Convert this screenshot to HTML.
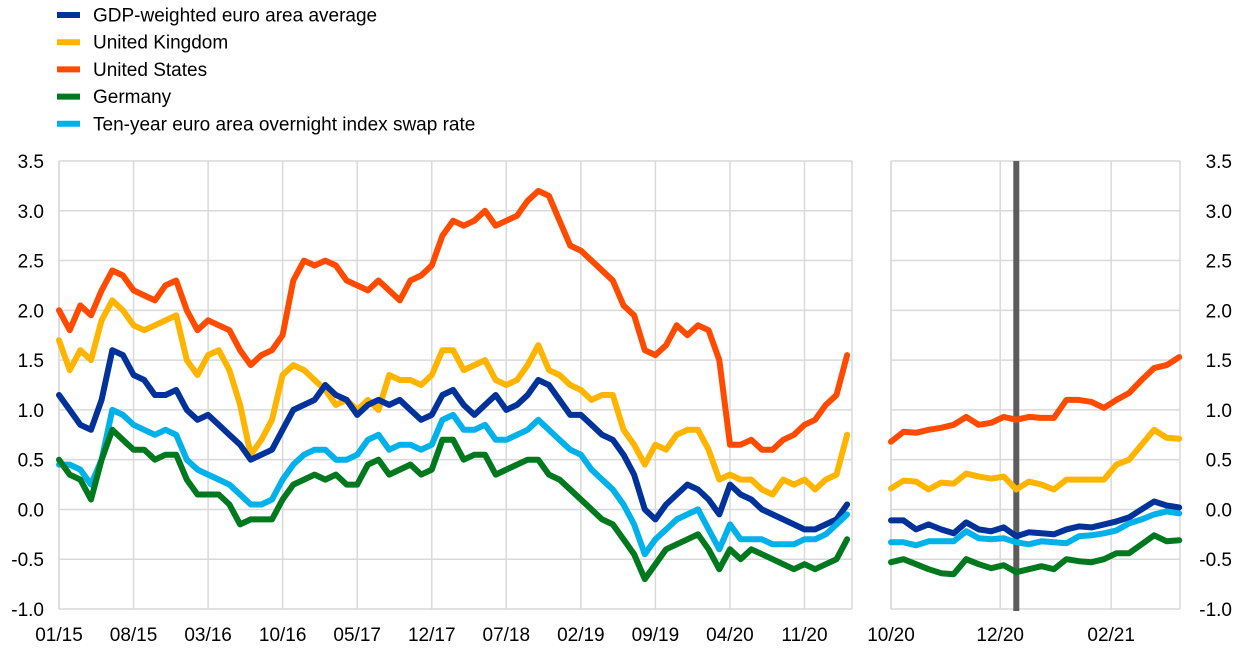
<!DOCTYPE html>
<html><head><meta charset="utf-8"><style>
body{margin:0;background:#fff;font-family:"Liberation Sans",Arial,sans-serif}
svg{display:block}
text{font-family:"Liberation Sans",Arial,sans-serif;fill:#000}
</style></head><body>
<svg id="chart" width="1240" height="653" viewBox="0 0 1240 653" xmlns="http://www.w3.org/2000/svg">
<g id="legend"></g>
<g id="left"></g>
<g id="right"></g>
</svg>
<script>
const seriesNames=["GDP-weighted euro area average","United Kingdom","United States","Germany","Ten-year euro area overnight index swap rate"];
const seriesKeys=["gdp","uk","us","de","ois"];
const seriesColors=["#003299","#FFB400","#FF4B00","#00781E","#00B1EA"];
const yTicks=[3.5,3.0,2.5,2.0,1.5,1.0,0.5,0.0,-0.5,-1.0];
const leftTickLabels=["01/15","08/15","03/16","10/16","05/17","12/17","07/18","02/19","09/19","04/20","11/20"];
const leftTickMonths=[0,7,14,21,28,35,42,49,56,63,70];
const rightTickLabels=["10/20","12/20","02/21"];
const rightTickDays=[0,61,123];
const markerDay=70;
// Left panel: monthly values Jan 2015 .. Mar 2021
const leftGdp=[1.15,1.0,0.85,0.8,1.1,1.6,1.55,1.35,1.3,1.15,1.15,1.2,1.0,0.9,0.95,0.85,0.75,0.65,0.5,0.55,0.6,0.8,1.0,1.05,1.1,1.25,1.15,1.1,0.95,1.05,1.1,1.05,1.1,1.0,0.9,0.95,1.15,1.2,1.05,0.95,1.05,1.15,1.0,1.05,1.15,1.3,1.25,1.1,0.95,0.95,0.85,0.75,0.7,0.55,0.35,0.0,-0.1,0.05,0.15,0.25,0.2,0.1,-0.05,0.25,0.15,0.1,0.0,-0.05,-0.1,-0.15,-0.2,-0.2,-0.15,-0.1,0.05];
const leftUk=[1.7,1.4,1.6,1.5,1.9,2.1,2.0,1.85,1.8,1.85,1.9,1.95,1.5,1.35,1.55,1.6,1.4,1.05,0.55,0.7,0.9,1.35,1.45,1.4,1.3,1.2,1.05,1.1,1.0,1.1,1.0,1.35,1.3,1.3,1.25,1.35,1.6,1.6,1.4,1.45,1.5,1.3,1.25,1.3,1.45,1.65,1.4,1.35,1.25,1.2,1.1,1.15,1.15,0.8,0.65,0.45,0.65,0.6,0.75,0.8,0.8,0.6,0.3,0.35,0.3,0.3,0.2,0.15,0.3,0.25,0.3,0.2,0.3,0.35,0.75];
const leftUs=[2.0,1.8,2.05,1.95,2.2,2.4,2.35,2.2,2.15,2.1,2.25,2.3,2.0,1.8,1.9,1.85,1.8,1.6,1.45,1.55,1.6,1.75,2.3,2.5,2.45,2.5,2.45,2.3,2.25,2.2,2.3,2.2,2.1,2.3,2.35,2.45,2.75,2.9,2.85,2.9,3.0,2.85,2.9,2.95,3.1,3.2,3.15,2.9,2.65,2.6,2.5,2.4,2.3,2.05,1.95,1.6,1.55,1.65,1.85,1.75,1.85,1.8,1.5,0.65,0.65,0.7,0.6,0.6,0.7,0.75,0.85,0.9,1.05,1.15,1.55];
const leftDe=[0.5,0.35,0.3,0.1,0.5,0.8,0.7,0.6,0.6,0.5,0.55,0.55,0.3,0.15,0.15,0.15,0.05,-0.15,-0.1,-0.1,-0.1,0.1,0.25,0.3,0.35,0.3,0.35,0.25,0.25,0.45,0.5,0.35,0.4,0.45,0.35,0.4,0.7,0.7,0.5,0.55,0.55,0.35,0.4,0.45,0.5,0.5,0.35,0.3,0.2,0.1,0.0,-0.1,-0.15,-0.3,-0.45,-0.7,-0.55,-0.4,-0.35,-0.3,-0.25,-0.4,-0.6,-0.4,-0.5,-0.4,-0.45,-0.5,-0.55,-0.6,-0.55,-0.6,-0.55,-0.5,-0.3];
const leftOis=[0.45,0.45,0.4,0.25,0.5,1.0,0.95,0.85,0.8,0.75,0.8,0.75,0.5,0.4,0.35,0.3,0.25,0.15,0.05,0.05,0.1,0.3,0.45,0.55,0.6,0.6,0.5,0.5,0.55,0.7,0.75,0.6,0.65,0.65,0.6,0.65,0.9,0.95,0.8,0.8,0.85,0.7,0.7,0.75,0.8,0.9,0.8,0.7,0.6,0.55,0.4,0.3,0.2,0.05,-0.15,-0.45,-0.3,-0.2,-0.1,-0.05,0.0,-0.2,-0.4,-0.15,-0.3,-0.3,-0.3,-0.35,-0.35,-0.35,-0.3,-0.3,-0.25,-0.15,-0.05];
// Right panel: weekly values from 1 Oct 2020
const rightGdp=[-0.11,-0.11,-0.2,-0.15,-0.2,-0.24,-0.13,-0.2,-0.22,-0.18,-0.27,-0.23,-0.24,-0.25,-0.2,-0.17,-0.18,-0.15,-0.12,-0.08,0.0,0.08,0.04,0.02];
const rightUk=[0.21,0.29,0.28,0.2,0.27,0.26,0.36,0.33,0.31,0.33,0.2,0.28,0.25,0.2,0.3,0.3,0.3,0.3,0.45,0.5,0.65,0.8,0.72,0.71];
const rightUs=[0.68,0.78,0.77,0.8,0.82,0.85,0.93,0.85,0.87,0.93,0.9,0.93,0.92,0.92,1.1,1.1,1.08,1.02,1.1,1.17,1.3,1.42,1.45,1.53];
const rightDe=[-0.53,-0.5,-0.55,-0.6,-0.64,-0.65,-0.5,-0.55,-0.59,-0.56,-0.63,-0.6,-0.57,-0.6,-0.5,-0.52,-0.53,-0.5,-0.44,-0.44,-0.35,-0.26,-0.32,-0.31];
const rightOis=[-0.33,-0.33,-0.36,-0.32,-0.32,-0.32,-0.22,-0.29,-0.3,-0.29,-0.33,-0.35,-0.32,-0.33,-0.34,-0.27,-0.26,-0.24,-0.21,-0.14,-0.1,-0.05,-0.02,-0.04];

const NS="http://www.w3.org/2000/svg";
function mk(tag,attrs,parent){const e=document.createElementNS(NS,tag);for(const k in attrs)e.setAttribute(k,attrs[k]);parent.appendChild(e);return e;}
const yTop=161,yBot=609;
function yScale(v){return yTop+(3.5-v)/4.5*(yBot-yTop);}
const LX0=59,LX1=852,monthW=10.65;
function xLeft(m){return LX0+m*monthW;}
const RX0=891,RX1=1180,dayW=1.79;
function xRight(d){return RX0+d*dayW;}

// legend
const lg=document.getElementById('legend');
seriesNames.forEach((n,i)=>{
  const y=15+i*27.2;
  const m=mk('line',{x1:57,x2:80,y1:y,y2:y,stroke:seriesColors[i],'stroke-width':6},lg);
  
  
  const t=mk('text',{x:93,y:y+6.5,'font-size':19},lg);
  t.textContent=n;
  
  
});

function panel(g,x0,x1,vTicksX,vTickLabels,side){
  yTicks.forEach(v=>{
    const y=yScale(v);
    const l=mk('line',{x1:x0,x2:x1,y1:y,y2:y,stroke:'#d9d9d9','stroke-width':1.5},g);
    
    
    const t=mk('text',{x:side==='left'?44:1232,y:y+7,'font-size':19,'text-anchor':'end'},g);
    t.textContent=v.toFixed(1);
    
    
  });
  [x0,x1].forEach(x=>{const l=mk('line',{x1:x,x2:x,y1:yTop,y2:yBot,stroke:'#d9d9d9','stroke-width':1.5},g);
    
    });
  vTicksX.forEach((x,i)=>{
    const l=mk('line',{x1:x,x2:x,y1:yTop,y2:yBot,stroke:'#d9d9d9','stroke-width':1.5},g);
    
    
    const t=mk('text',{x:x,y:641,'font-size':19,'text-anchor':'middle'},g);
    t.textContent=vTickLabels[i];
    
    
  });
}
const L=document.getElementById('left'),R=document.getElementById('right');
panel(L,LX0,LX1,leftTickMonths.map(xLeft),leftTickLabels,'left');
panel(R,RX0,RX1,rightTickDays.map(xRight),rightTickLabels,'right');

const mv=mk('line',{x1:xRight(markerDay),x2:xRight(markerDay),y1:yTop,y2:yBot+2,stroke:'#5c5c5c','stroke-width':6},R);



function drawLine(g,vals,xf,step,color,key){
  const d=vals.map((v,i)=>(i?'L':'M')+xf(i*step).toFixed(1)+','+yScale(v).toFixed(1)).join('');
  const p=mk('path',{d:d,fill:'none',stroke:color,'stroke-width':6,'stroke-linejoin':'round','stroke-linecap':'round'},g);
  
  
}
const leftSets=[leftUs,leftUk,leftGdp,leftOis,leftDe];
const rightSets=[rightUs,rightUk,rightGdp,rightOis,rightDe];
const order=[2,1,0,4,3];
order.forEach((si,k)=>{
  drawLine(L,leftSets[k],xLeft,1,seriesColors[si],seriesKeys[si]);
  drawLine(R,rightSets[k],xRight,7,seriesColors[si],seriesKeys[si]);
});
</script>
</body></html>
